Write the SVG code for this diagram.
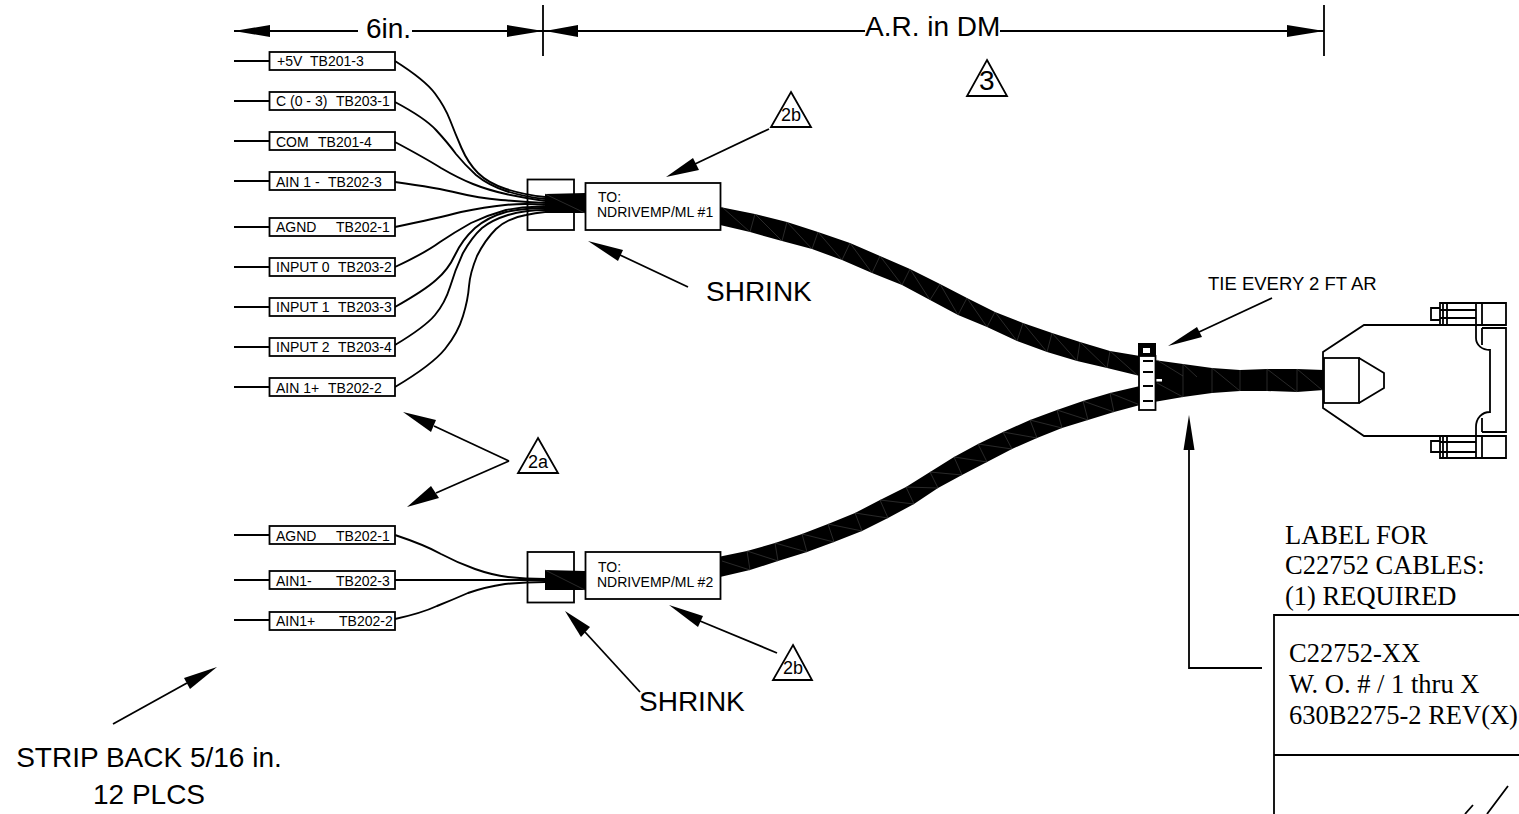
<svg xmlns="http://www.w3.org/2000/svg" width="1519" height="814" viewBox="0 0 1519 814">
<style>
.l{fill:none;stroke:#000;stroke-width:1.8}
.w{fill:none;stroke:#000;stroke-width:1.9}
.b{fill:#fff;stroke:#000;stroke-width:1.8}
.k{fill:#000;stroke:none}
.s{fill:none;stroke:#444;stroke-width:.6}
text{font-family:"Liberation Sans",Arial,sans-serif;fill:#000}
.t{font-size:14px}
.m{font-size:28px}
.n{font-size:18px}
.r{font-family:"Liberation Serif","Times New Roman",serif;font-size:26.500px}
</style>
<g id="dimensions">
<path class="l" d="M543 5V56M1324 5V56"/>
<path class="l" d="M234 31H358M412 31H543M543 31H865M1000 31H1324"/>
<path class="k" d="M234 31L270 25V37ZM543 31L507 25V37ZM545 31L578 25V37ZM1324 31L1287 25V37Z"/>
<text class="m" x="366" y="38">6in.</text>
<text class="m" x="865" y="36">A.R. in DM</text>
</g>
<g id="connectors">
<path class="w" d="M234 61H269M234 101H269M234 141H269M234 181H269M234 227H269M234 267H269M234 307H269M234 347H269M234 387H269M234 535H269M234 580H269M234 620H269"/>
<path class="w" d="M395 61Q425 80 435 93.500Q445 107 450 120Q455 133 461.500 148Q468 163 478 173Q488 183 506 189Q525 195 545 197"/>
<path class="w" d="M395 102Q425 118 436 130Q448 143 456 154Q465 165 476 175Q488 185 506 191Q525 197 545 199"/>
<path class="w" d="M395 142Q425 158 441 168Q458 178 473 184Q488 190 506 194Q525 198 545 201"/>
<path class="w" d="M395 182Q438 188 458 193Q478 198 501 200Q525 202 545 203"/>
<path class="w" d="M395 227Q438 218 461 212Q485 207 505 205Q525 203 545 205"/>
<path class="w" d="M395 267Q425 253 440 242Q455 232 471 223Q488 215 506 210Q525 206 545 207"/>
<path class="w" d="M395 307Q425 290 436 280Q448 270 455 255Q462 240 475 228Q488 217 506 212Q525 208 545 208"/>
<path class="w" d="M395 345Q425 327 435 315Q445 303 450 287Q455 270 463 253Q472 237 482 228Q492 220 508 215Q525 210 545 210"/>
<path class="w" d="M395 387Q432 365 445 349Q458 333 463 316Q468 300 469 286Q470 273 477 256Q485 240 496 229Q508 218 526 215Q535 213 545 212"/>
<path class="w" d="M395 535Q425 545 441 554Q458 563 475 569Q492 575 508 577Q525 579 545 579"/>
<path class="w" d="M395 580H545"/>
<path class="w" d="M395 619Q422 613 437 606Q452 600 468 593Q485 587 505 584Q525 582 545 582"/>
<path class="l" d="M688 287L620 255"/><path class="k" d="M588 241L623 250L618 261Z"/>
<path class="l" d="M769 129L695 164"/><path class="k" d="M666 177L693 158L699 170Z"/>
<path class="l" d="M640 692L585 632"/><path class="k" d="M565 611L590 627L581 637Z"/>
<path class="l" d="M777 653L700 621"/><path class="k" d="M669 605L703 616L698 627Z"/>
<path class="l" d="M1272 298L1199 332"/><path class="k" d="M1168 346L1197 327L1202 337Z"/>
<path class="l" d="M1262 668H1189V445"/><path class="k" d="M1189 415L1194.500 450H1183.500Z"/>
<path class="l" d="M509 461L434 426"/><path class="k" d="M403 412L436 420L431 432Z"/>
<path class="l" d="M509 461L436 493"/><path class="k" d="M407 507L431 486L439 498Z"/>
<path class="l" d="M113 724L187 683"/><path class="k" d="M217 667L184 678L190 689Z"/>
</g>
<g id="cables">
<path class="k" d="M720 207L755 214L787 222L818 232L850 243L880 256L910 269L940 284L967 298L995 312L1023 323L1052 333L1080 342L1110 351L1140 356V376L1107 368L1077 361L1047 352L1017 341L987 327L958 315L930 300L902 285L872 273L842 260L812 249L782 241L750 232L720 225Z"/>
<path class="s" d="M722 207L750 232L755 214L782 241L787 222L812 249L818 232L842 260L850 243L872 273L880 256L902 285L910 269L930 300L940 284L958 315L967 298L987 327L995 312L1017 341L1023 323L1047 352L1052 333L1077 361L1080 342L1107 368L1110 351L1137 375"/>
<path class="k" d="M718 557L747 551L775 543L802 534L828 524L855 513L880 500L906 487L930 472L954 457L978 444L1003 432L1030 420L1057 410L1083 401L1110 393L1140 386V405L1114 412L1088 420L1062 428L1037 438L1012 449L987 462L962 475L938 488L914 504L888 518L862 531L834 542L807 552L778 561L750 570L720 577Z"/>
<path class="s" d="M722 561L750 570L747 551L778 561L775 543L807 552L802 534L834 542L828 524L862 531L855 513L888 518L880 500L914 504L906 487L938 488L930 472L962 475L954 457L987 462L978 444L1012 449L1003 432L1037 438L1030 420L1062 428L1057 410L1088 420L1083 401L1114 412L1110 393L1140 405"/>
<path class="k" d="M1154 360L1183 364L1212 368L1240 370L1267 369L1297 369L1324 370V390L1297 392L1267 391L1240 391L1212 393L1183 397L1154 402Z"/>
<path class="s" d="M1157 360L1183 376M1183 364V397M1157 383L1183 397M1183 364L1197 377M1212 368V393M1212 368L1240 391M1240 370V391M1267 369V391M1267 369L1297 392M1297 369V392M1297 369L1322 390"/>
<rect x="1156" y="379" width="6" height="2.500" fill="#fff"/>
</g>
<g id="label-1"><rect class="b" x="269.500" y="52" width="125.500" height="18"/><text class="t" y="66"><tspan x="277">+5V</tspan><tspan x="310">TB201-3</tspan></text></g>
<g id="label-2"><rect class="b" x="269.500" y="92" width="125.500" height="18"/><text class="t" y="106"><tspan x="276">C (0 - 3)</tspan><tspan x="336">TB203-1</tspan></text></g>
<g id="label-3"><rect class="b" x="269.500" y="132" width="125.500" height="18"/><text class="t" y="147"><tspan x="276">COM</tspan><tspan x="318">TB201-4</tspan></text></g>
<g id="label-4"><rect class="b" x="269.500" y="172" width="125.500" height="18"/><text class="t" y="187"><tspan x="276">AIN 1 -</tspan><tspan x="328">TB202-3</tspan></text></g>
<g id="label-5"><rect class="b" x="269.500" y="218" width="125.500" height="18"/><text class="t" y="232"><tspan x="276">AGND</tspan><tspan x="336">TB202-1</tspan></text></g>
<g id="label-6"><rect class="b" x="269.500" y="258" width="125.500" height="18"/><text class="t" y="272"><tspan x="276">INPUT 0</tspan><tspan x="338">TB203-2</tspan></text></g>
<g id="label-7"><rect class="b" x="269.500" y="298" width="125.500" height="18"/><text class="t" y="312"><tspan x="276">INPUT 1</tspan><tspan x="338">TB203-3</tspan></text></g>
<g id="label-8"><rect class="b" x="269.500" y="338" width="125.500" height="18"/><text class="t" y="352"><tspan x="276">INPUT 2</tspan><tspan x="338">TB203-4</tspan></text></g>
<g id="label-9"><rect class="b" x="269.500" y="378" width="125.500" height="18"/><text class="t" y="393"><tspan x="276">AIN 1+</tspan><tspan x="328">TB202-2</tspan></text></g>
<g id="label-10"><rect class="b" x="269.500" y="526" width="125.500" height="18"/><text class="t" y="541"><tspan x="276">AGND</tspan><tspan x="336">TB202-1</tspan></text></g>
<g id="label-11"><rect class="b" x="269.500" y="571" width="125.500" height="18"/><text class="t" y="586"><tspan x="276">AIN1-</tspan><tspan x="336">TB202-3</tspan></text></g>
<g id="label-12"><rect class="b" x="269.500" y="612" width="125.500" height="18"/><text class="t" y="626"><tspan x="276">AIN1+</tspan><tspan x="339">TB202-2</tspan></text></g>
<g id="shrink-1"><rect class="b" x="527.500" y="179.500" width="46.500" height="50.500" fill-opacity="0"/><path class="k" d="M545 194L585 193V213H545Z"/><path class="s" d="M545 194L585 213"/></g>
<g id="shrink-2"><rect class="b" x="527.500" y="552" width="46.500" height="50.500" fill-opacity="0"/><path class="k" d="M545 570L585 571V590L545 590Z"/><path class="s" d="M545 570L585 590"/></g>
<g id="tag-1"><rect class="b" x="585.500" y="183" width="135" height="47"/><text class="t" x="598" y="202">TO:</text><text class="t" x="597" y="217">NDRIVEMP/ML #1</text></g>
<g id="tag-2"><rect class="b" x="585.500" y="552" width="135" height="47"/><text class="t" x="598" y="572">TO:</text><text class="t" x="597" y="587">NDRIVEMP/ML #2</text></g>
<g id="tie">
<rect class="k" x="1138" y="343" width="18" height="14"/>
<rect x="1143" y="348" width="7" height="5" fill="#fff"/>
<rect class="b" x="1139" y="356" width="16.500" height="54"/>
<path class="l" d="M1143 361H1153M1143 372H1153M1143 386H1153M1143 401H1153"/>
</g>
<g id="connector">
<path class="l" d="M1323 370V352L1364 325H1473M1323 390V408L1364 436H1473"/>
<rect class="b" x="1324" y="358" width="35" height="45"/>
<path class="l" d="M1359 358L1384 373V388L1359 403"/>
<path class="l" d="M1476 325V338C1476 345 1482 350 1490 350V412C1482 412 1476 418 1476 427V436"/>
<path class="l" d="M1482 328H1506V432H1482M1482 328V345M1482 418V432"/>
<path class="l" d="M1440 303H1506V325H1440ZM1440 308H1431V320H1440M1443 303V325M1447 303V325M1476 303V325M1482 303V325M1440 310H1476M1440 318H1476"/>
<path class="l" d="M1440 436H1506V458H1440ZM1440 441H1431V452H1440M1443 436V458M1447 436V458M1476 436V458M1482 436V458M1440 442H1476M1440 452H1476"/>
</g>
<g id="tri-2b-1"><path class="l" d="M791 92L811 127H771Z"/><text class="n" x="781" y="121">2b</text></g>
<g id="tri-3"><path class="l" d="M987 60L1007 96H967Z"/><text class="m" x="979" y="90">3</text></g>
<g id="tri-2a"><path class="l" d="M538 438L558 473H518Z"/><text class="n" x="528" y="468">2a</text></g>
<g id="tri-2b-2"><path class="l" d="M793 645L812 680H773Z"/><text class="n" x="783" y="674">2b</text></g>
<g id="notes">
<text class="m" x="706" y="301">SHRINK</text>
<text class="m" x="639" y="711">SHRINK</text>
<text x="1208" y="290" font-size="18.500">TIE EVERY 2 FT AR</text>
<text class="m" x="149" y="767" text-anchor="middle">STRIP BACK 5/16 in.</text>
<text class="m" x="149" y="804" text-anchor="middle">12 PLCS</text>
<text class="r" x="1285" y="544">LABEL FOR</text>
<text class="r" x="1285" y="574">C22752 CABLES:</text>
<text class="r" x="1285" y="605">(1) REQUIRED</text>
</g>
<g id="label-block">
<path class="l" d="M1274 814V615H1519M1274 755H1519"/>
<text class="r" x="1289" y="662">C22752-XX</text>
<text class="r" x="1289" y="693">W. O. # / 1 thru X</text>
<text class="r" x="1289" y="724">630B2275-2 REV(X)</text>
<path class="l" d="M1508 786L1487 814M1473 805L1465 814"/>
</g>
</svg>
